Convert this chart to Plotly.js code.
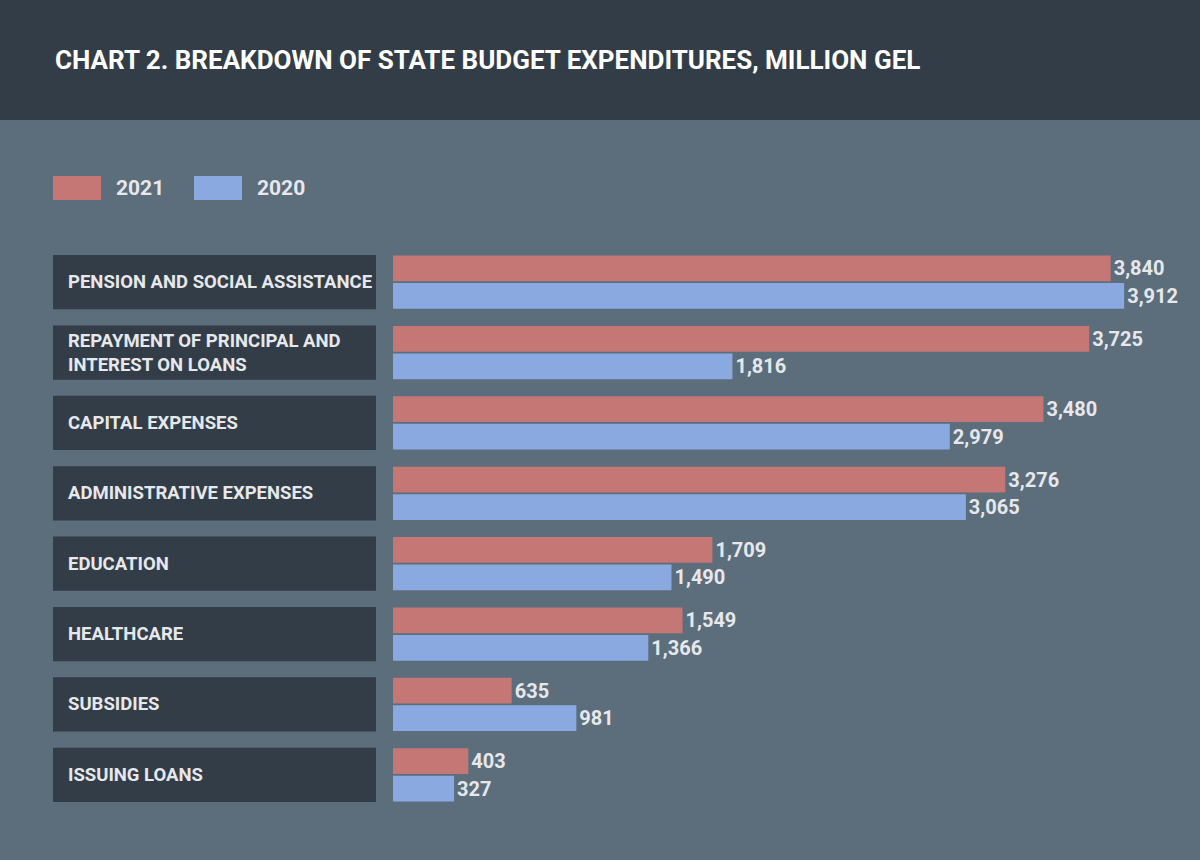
<!DOCTYPE html>
<html>
<head>
<meta charset="utf-8">
<script src="https://cdn.plot.ly/plotly-3.0.1.min.js"></script>
<style>
  html, body { margin: 0; padding: 0; background: #5c6d7b; }
  #chart { width: 1200px; height: 860px; }
</style>
</head>
<body>
<div id="chart"></div>
<script>
// data
var categories = ['PENSION AND SOCIAL ASSISTANCE', 'REPAYMENT OF PRINCIPAL AND<br>INTEREST ON LOANS', 'CAPITAL EXPENSES',
    'ADMINISTRATIVE EXPENSES', 'EDUCATION', 'HEALTHCARE', 'SUBSIDIES', 'ISSUING LOANS'];
var values2021 = [3840, 3725, 3480, 3276, 1709, 1549, 635, 403];
var values2020 = [3912, 1816, 2979, 3065, 1490, 1366, 981, 327];
var seriesNames = ['2021', '2020'];
var seriesColors = ['#c47775', '#8aa9e0'];

var FONT = 'Roboto, "DejaVu Sans", sans-serif';
var DARK = '#333d47';
var TXT = '#e6e8ec';

// plot area in pixels, used to place the decorations
var L = 393, R = 1178, T = 247, B = 810;
function px(x) { return (x - L) / (R - L); }
function py(y) { return (B - y) / (B - T); }

var data = [values2021, values2020].map(function (vals, i) {
    return {
        type: 'bar',
        orientation: 'h',
        name: seriesNames[i],
        y: categories,
        x: vals,
        marker: { color: seriesColors[i] },
        text: vals,
        texttemplate: '<b>%{x:,}</b>',
        textposition: 'outside',
        cliponaxis: false,
        textfont: { family: FONT, size: 20, color: TXT },
        hoverinfo: 'x+name'
    };
});

var shapes = [
    // header band
    { type: 'rect', xref: 'paper', yref: 'paper', x0: px(-5), x1: px(1205), y0: py(120), y1: py(-5),
      fillcolor: DARK, line: { width: 0 }, layer: 'below' }
];
var annotations = [];

// dark boxes behind the category names
categories.forEach(function (c, i) {
    shapes.push({ type: 'rect', xref: 'paper', yref: 'y', x0: px(53), x1: px(376),
        y0: i - 0.385, y1: i + 0.385, fillcolor: DARK, line: { width: 0 }, layer: 'below' });
    annotations.push({ xref: 'paper', yref: 'y', x: px(66), y: i, xanchor: 'left', yanchor: 'middle',
        text: '<b>' + c + '</b>', align: 'left', showarrow: false,
        font: { family: FONT, size: 18.5, color: TXT } });
});

// legend
var legendX = [53, 194];
seriesNames.forEach(function (n, i) {
    shapes.push({ type: 'rect', xref: 'paper', yref: 'paper', x0: px(legendX[i]), x1: px(legendX[i] + 48),
        y0: py(200), y1: py(176), fillcolor: seriesColors[i], line: { width: 0 } });
    annotations.push({ xref: 'paper', yref: 'paper', x: px(legendX[i] + 61), y: py(188),
        xanchor: 'left', yanchor: 'middle', text: '<b>' + n + '</b>', showarrow: false,
        font: { family: FONT, size: 21, color: TXT } });
});

var layout = {
    width: 1200,
    height: 860,
    paper_bgcolor: '#5c6d7b',
    plot_bgcolor: 'rgba(0,0,0,0)',
    margin: { l: L, r: 1200 - R, t: T, b: 860 - B },
    font: { family: FONT, color: TXT },
    title: {
        text: '<b>CHART 2. BREAKDOWN OF STATE BUDGET EXPENDITURES, MILLION GEL</b>',
        x: 55 / 1200, xanchor: 'left', xref: 'container',
        y: 1 - 60 / 860, yanchor: 'middle', yref: 'container',
        font: { family: FONT, size: 26, color: '#ffffff' }
    },
    showlegend: false,
    barmode: 'group',
    bargap: 0.22,
    bargroupgap: 0.06,
    xaxis: { range: [0, 4200], visible: false, fixedrange: true },
    yaxis: { autorange: 'reversed', showticklabels: false, showgrid: false, zeroline: false,
        ticks: '', fixedrange: true },
    shapes: shapes,
    annotations: annotations
};

Plotly.newPlot('chart', data, layout, { displayModeBar: false, staticPlot: true });
</script>
</body>
</html>
